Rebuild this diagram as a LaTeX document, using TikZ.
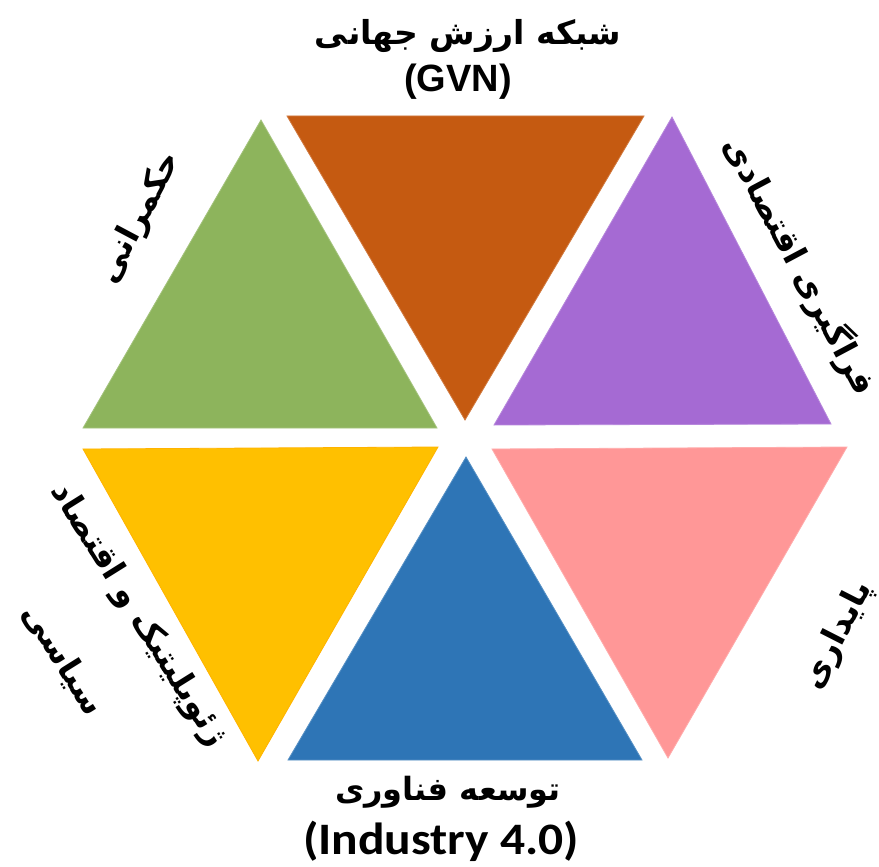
\documentclass[tikz,border=0pt]{standalone}
\usepackage{fontspec}
\setmainfont{DejaVu Sans}
\newfontfamily\arabicfont[Script=Arabic]{DejaVu Sans}
\newfontfamily\latinfont{Liberation Sans}
\newfontfamily\calfont[FakeStretch=1.1]{Carlito}
\TeXXeTstate=1
\definecolor{cgreen}{HTML}{8DB45C}
\definecolor{cbrown}{HTML}{C55A11}
\definecolor{cpurple}{HTML}{A56AD3}
\definecolor{cyellow}{HTML}{FFC000}
\definecolor{cblue}{HTML}{2E75B6}
\definecolor{cpink}{HTML}{FF9797}
\tikzset{
  tri/.style={line width=0.8pt, line join=miter},
  fa/.style={font=\arabicfont\bfseries\fontsize{33}{40}\selectfont, inner sep=0pt, text=black},
  fasmall/.style={font=\arabicfont\bfseries\fontsize{32}{38}\selectfont, inner sep=0pt, text=black},
  lat/.style={font=\latinfont\bfseries\fontsize{38}{44}\selectfont, inner sep=0pt, text=black},
  cal/.style={font=\calfont\bfseries\fontsize{45}{50}\selectfont, inner sep=0pt, text=black},
}
\begin{document}
\begin{tikzpicture}[x=1pt,y=-1pt]
\useasboundingbox (0,0) rectangle (879,867);
% triangles
\filldraw[tri, fill=cgreen, draw=cgreen!80!white] (261,120) -- (83,428) -- (437,428) -- cycle;
\filldraw[tri, fill=cbrown, draw=cbrown!80!white] (287,116) -- (644,116) -- (465,420) -- cycle;
\filldraw[tri, fill=cpurple, draw=cpurple!80!white] (672,117) -- (494,425) -- (831,424) -- cycle;
\filldraw[tri, fill=cyellow, draw=cyellow!80!orange] (83,449) -- (438,447) -- (258,761) -- cycle;
\filldraw[tri, fill=cblue, draw=cblue!80!white] (466,457) -- (288,760) -- (642,760) -- cycle;
\filldraw[tri, fill=cpink, draw=cpink!80!white] (492,449) -- (847,447) -- (668,758) -- cycle;
% labels
\node[fa] (top1) at (468,36) {\beginR شبکه ارزش جهانی\endR};
\node[lat] (top2) at (458,82) {(GVN)};
\node[fa, rotate=-62] (econ) at (800,266) {\beginR فراگیری اقتصادی\endR};
\node[fa, rotate=62] (gov) at (140,218) {\beginR حکمرانی\endR};
\node[fa, rotate=63] (sust) at (838,636) {\beginR پایداری\endR};
\node[fa, rotate=-58] (geo1) at (138,615) {\beginR ژئوپلیتیک و اقتصاد\endR};
\node[fa, rotate=-58] (geo2) at (63,660) {\beginR سیاسی\endR};
\node[fasmall] (bot1) at (448,792) {\beginR توسعه فناوری\endR};
\node[cal] (bot2) at (441,841) {(Industry 4.0)};
\end{tikzpicture}
\end{document}
